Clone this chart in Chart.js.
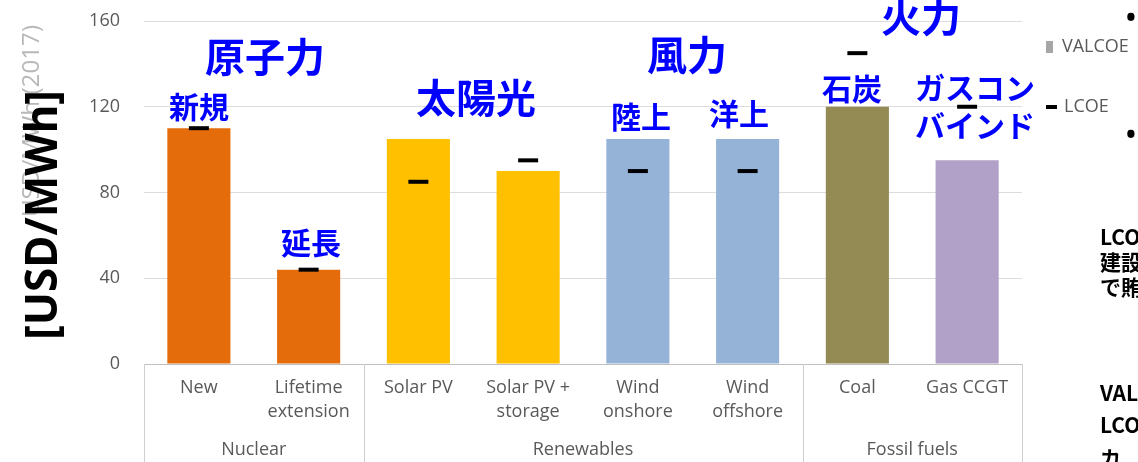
<!DOCTYPE html>
<html lang="ja">
<head>
<meta charset="UTF-8">
<title>LCOE and VALCOE</title>
<script src="https://cdn.jsdelivr.net/npm/chart.js@4"></script>
<style>
  html, body { margin: 0; padding: 0; background: #fff; overflow: hidden; }
  #wrap { width: 1138px; height: 462px; }
</style>
</head>
<body>
<div id="wrap"><canvas id="chart" width="1138" height="462"></canvas></div>
<script>
// data
const categories = [['New'], ['Lifetime', 'extension'], ['Solar PV'], ['Solar PV +', 'storage'],
                    ['Wind', 'onshore'], ['Wind', 'offshore'], ['Coal'], ['Gas CCGT']];
const groups = ['Nuclear', 'Renewables', 'Fossil fuels'];
const groupFirst = [0, 2, 6];
const groupLast = [1, 5, 7];
const valcoe = [110, 44, 105, 90, 105, 105, 120, 95];
const lcoe = [110, 44, 85, 95, 90, 90, 145, 120];
const yMax = 160;
const yStep = 40;
const barColors = ['#e46c0a', '#e46c0a', '#ffc000', '#ffc000', '#95b3d7', '#95b3d7', '#948a54', '#b1a0c7'];

const TICK = '#595959';
const BLUE = '#0000ff';
const JP = '"Noto Sans CJK JP", "Noto Sans", sans-serif';

function txt(ctx, s, x, y, font, color, align) {
  ctx.font = font;
  ctx.fillStyle = color;
  ctx.textAlign = align || 'center';
  ctx.textBaseline = 'middle';
  ctx.fillText(s, x, y);
}

// rotated text squeezed/stretched to a given length
function vtext(ctx, s, cx, cy, len, weight, family, color) {
  ctx.save();
  ctx.font = weight + ' 20px ' + family;
  const size = 20 * len / ctx.measureText(s).width;
  ctx.translate(cx, cy);
  ctx.rotate(-Math.PI / 2);
  txt(ctx, s, 0, 0, weight + ' ' + size.toFixed(1) + 'px ' + family, color);
  ctx.restore();
}

const extras = {
  id: 'extras',
  afterDraw(chart) {
    const ctx = chart.ctx;
    const xs = chart.scales.x;
    const area = chart.chartArea;
    const H = chart.height;
    ctx.save();

    // group separators and group names under the axis
    const half = (xs.getPixelForValue(1) - xs.getPixelForValue(0)) / 2;
    ctx.strokeStyle = '#cfcfcf';
    ctx.lineWidth = 1;
    groups.forEach((g, i) => {
      const l = xs.getPixelForValue(groupFirst[i]) - half;
      const r = xs.getPixelForValue(groupLast[i]) + half;
      ctx.beginPath();
      ctx.moveTo(Math.round(l) + 0.5, area.bottom);
      ctx.lineTo(Math.round(l) + 0.5, H);
      ctx.moveTo(Math.round(r) + 0.5, area.bottom);
      ctx.lineTo(Math.round(r) + 0.5, H);
      ctx.stroke();
      txt(ctx, g, (l + r) / 2, 450, '18px "Open Sans"', TICK);
    });

    // y axis titles: faded original and the overlaid bracket label
    vtext(ctx, 'USD/MWh (2017)', 32, 121, 192, 'normal', '"Open Sans"', '#b8b8b8');
    vtext(ctx, '[USD/MWh]', 44, 215, 250, 'bold', '"Noto Sans"', '#000');

    // blue Japanese annotations
    const big = 'bold 40px ' + JP;
    const mid = 'bold 30px ' + JP;
    txt(ctx, '原子力', 265, 57, big, BLUE);
    txt(ctx, '新規', 199, 107, mid, BLUE);
    txt(ctx, '延長', 311, 243, mid, BLUE);
    txt(ctx, '太陽光', 476, 98, big, BLUE);
    txt(ctx, '風力', 687, 55, big, BLUE);
    txt(ctx, '陸上', 641, 117, mid, BLUE);
    txt(ctx, '洋上', 739, 114, mid, BLUE);
    txt(ctx, '火力', 921, 17, big, BLUE);
    txt(ctx, '石炭', 852, 89, mid, BLUE);
    txt(ctx, 'ガスコン', 975, 88, mid, BLUE);
    txt(ctx, 'バインド', 975, 126, mid, BLUE);

    // legend
    ctx.fillStyle = '#a6a6a6';
    ctx.fillRect(1046, 41, 7, 12);
    txt(ctx, 'VALCOE', 1062, 47, '18px "Open Sans"', TICK, 'left');
    ctx.fillStyle = '#000';
    ctx.fillRect(1046, 105, 11, 4);
    txt(ctx, 'LCOE', 1064, 107, '18px "Open Sans"', TICK, 'left');

    // slide text cut off at the right edge
    txt(ctx, '•', 1131, 20, 'bold 26px "Noto Sans"', '#000');
    txt(ctx, '•', 1131, 137, 'bold 26px "Noto Sans"', '#000');
    const side = 'bold 21px ' + JP;
    txt(ctx, 'LCOE', 1100, 237, side, '#000', 'left');
    txt(ctx, '建設費', 1100, 262, side, '#000', 'left');
    txt(ctx, 'で賄', 1100, 287, side, '#000', 'left');
    txt(ctx, 'VALCOE', 1100, 393, side, '#000', 'left');
    txt(ctx, 'LCOE', 1100, 425, side, '#000', 'left');
    txt(ctx, 'カ', 1100, 458, side, '#000', 'left');

    ctx.restore();
  }
};

new Chart(document.getElementById('chart'), {
  data: {
    labels: categories,
    datasets: [
      {
        type: 'bar',
        label: 'VALCOE',
        data: valcoe,
        backgroundColor: barColors,
        categoryPercentage: 1,
        barPercentage: 0.575,
        order: 2
      },
      {
        type: 'line',
        label: 'LCOE',
        data: lcoe,
        showLine: false,
        pointStyle: 'line',
        pointRadius: 10,
        pointHoverRadius: 10,
        pointBorderWidth: 4,
        borderColor: '#000',
        backgroundColor: '#000',
        order: 1
      }
    ]
  },
  options: {
    responsive: false,
    animation: false,
    devicePixelRatio: 1,
    layout: { autoPadding: false, padding: { top: 21, right: 116, left: 0, bottom: 0 } },
    plugins: { legend: { display: false }, tooltip: { enabled: false } },
    scales: {
      x: {
        grid: { display: false },
        border: { color: '#bfbfbf' },
        ticks: {
          color: TICK,
          font: { family: 'Open Sans', size: 18, lineHeight: 1.33 },
          maxRotation: 0,
          autoSkip: false,
          padding: 4
        },
        afterFit(s) { s.height = 98; }
      },
      y: {
        min: 0,
        max: yMax,
        // invisible tick marks push the labels left without adding top padding
        grid: { color: '#dcdcdc', drawTicks: true, tickLength: 24, tickColor: 'rgba(0,0,0,0)' },
        border: { display: false },
        ticks: {
          stepSize: yStep,
          color: TICK,
          font: { family: 'Open Sans', size: 18 },
          padding: 0
        },
        afterFit(s) { s.width = 144; }
      }
    }
  },
  plugins: [extras]
});
</script>
</body>
</html>
